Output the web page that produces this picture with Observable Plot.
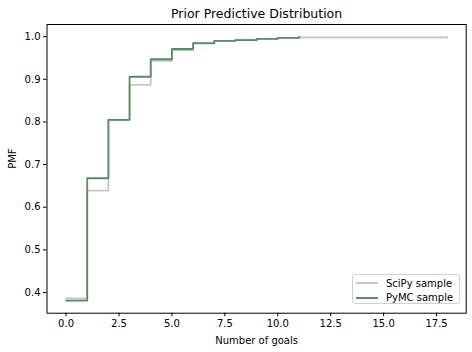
<!DOCTYPE html>
<html>
<head>
<meta charset="utf-8">
<script src="https://cdn.jsdelivr.net/npm/d3@7"></script>
<script src="https://cdn.jsdelivr.net/npm/@observablehq/plot@0.6"></script>
<style>
  body { margin: 0; background: #fff; }
  #wrap { position: relative; width: 472px; height: 352px; font-family: "DejaVu Sans", sans-serif; }
  #legend { position: absolute; left: 352px; top: 274px; width: 106px; height: 28px;
    border: 1px solid #d0d0d0; border-radius: 3px; background: rgba(255,255,255,0.8);
    font-size: 10px; color: #000; }
  .row { position: absolute; left: 0; height: 14px; display: flex; align-items: center; }
  .sw { width: 22px; height: 0; border-top: 2px solid; margin-left: 3px; margin-right: 8px; }
</style>
</head>
<body>
<div id="wrap"></div>
<script>
const title = "Prior Predictive Distribution";
const xLabel = "Number of goals";
const yLabel = "PMF";
const seriesNames = ["SciPy sample", "PyMC sample"];
const seriesColors = ["#c8c8c8", "#5b8a6b"];

const scipyGoals = [0, 1, 2, 3, 4, 5, 6, 7, 8, 9, 10, 11, 18];
const scipyCdf   = [0.386, 0.639, 0.805, 0.887, 0.943, 0.968, 0.984, 0.990, 0.993, 0.995, 0.997, 0.998, 1.0];

const pymcGoals = [0, 1, 2, 3, 4, 5, 6, 7, 8, 9, 10, 11];
const pymcCdf   = [0.381, 0.668, 0.805, 0.906, 0.947, 0.971, 0.985, 0.990, 0.992, 0.995, 0.997, 1.0];

const xTicks = [0, 2.5, 5, 7.5, 10, 12.5, 15, 17.5];
const yTicks = [0.4, 0.5, 0.6, 0.7, 0.8, 0.9, 1.0];

const scipy = scipyGoals.map((g, i) => ({x: g, y: scipyCdf[i]}));
const pymc = pymcGoals.map((g, i) => ({x: g, y: pymcCdf[i]}));

const chart = Plot.plot({
  width: 472,
  height: 352,
  marginLeft: 46.5,
  marginRight: 6.3,
  marginTop: 24,
  marginBottom: 39.3,
  style: { fontFamily: "DejaVu Sans, sans-serif", fontSize: "10px", color: "#000", background: "#fff" },
  x: { domain: [-0.9, 18.9], label: null },
  y: { domain: [0.3515, 1.0285], label: null },
  marks: [
    Plot.line(scipy, { x: "x", y: "y", curve: "step-after", stroke: seriesColors[0], strokeWidth: 1.8 }),
    Plot.line(pymc, { x: "x", y: "y", curve: "step-after", stroke: seriesColors[1], strokeWidth: 1.8 }),
    Plot.frame({ stroke: "#000", strokeWidth: 1 }),
    Plot.axisX({ ticks: xTicks, tickFormat: d3.format(".1f"), tickSize: 3.5, tickPadding: 3, label: null, fontSize: 10 }),
    Plot.axisY({ ticks: yTicks, tickFormat: d3.format(".1f"), tickSize: 3.5, tickPadding: 3, label: null, fontSize: 10 }),
    Plot.text([title], { text: d => d, frameAnchor: "top", dy: -15.5, fontSize: 12.5, fill: "#000" }),
    Plot.text([xLabel], { text: d => d, frameAnchor: "bottom", dy: 30.5, fontSize: 10, fill: "#000" }),
    Plot.text([yLabel], { text: d => d, frameAnchor: "left", dx: -34, rotate: -90, fontSize: 10, fill: "#000" })
  ]
});

const wrap = document.getElementById("wrap");
wrap.appendChild(chart);

const legend = document.createElement("div");
legend.id = "legend";
seriesNames.forEach((name, i) => {
  const row = document.createElement("div");
  row.className = "row";
  row.style.top = (1 + i * 14.5) + "px";
  const sw = document.createElement("div");
  sw.className = "sw";
  sw.style.borderTopColor = seriesColors[i];
  const label = document.createElement("span");
  label.textContent = name;
  row.appendChild(sw);
  row.appendChild(label);
  legend.appendChild(row);
});
wrap.appendChild(legend);
</script>
</body>
</html>
